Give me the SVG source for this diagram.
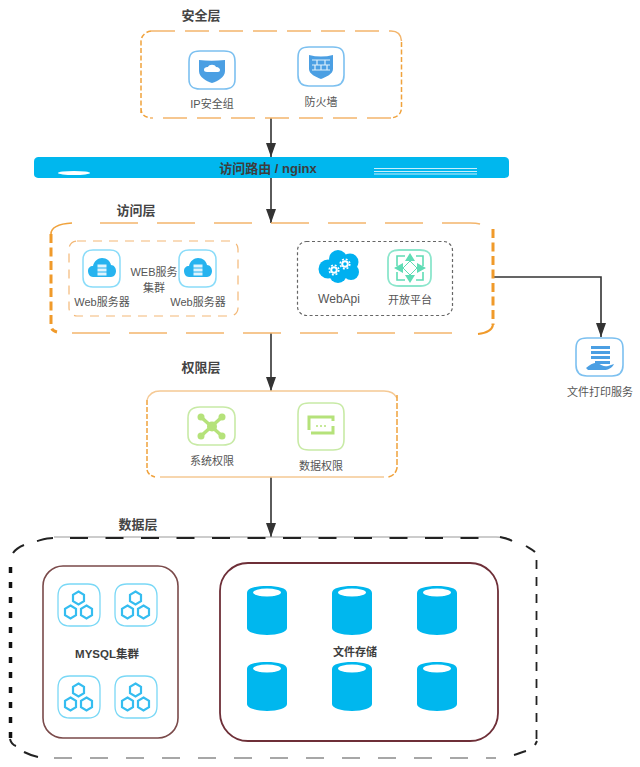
<svg xmlns="http://www.w3.org/2000/svg" xmlns:xlink="http://www.w3.org/1999/xlink" width="640" height="767" viewBox="0 0 640 767">
<style>
text{font-family:"Liberation Sans","Noto Sans CJK SC",sans-serif;fill:#555;font-size:11px;text-anchor:middle}
.h{font-size:13px;font-weight:bold;fill:#444}
.b{font-weight:bold;fill:#3d3d3d}
.o{fill:none;stroke:#f3b56c;stroke-width:1.5}
.ot{fill:none;stroke:#f3b877;stroke-width:1.2;stroke-dasharray:9 7}
.ob{stroke:#f09a2a;stroke-width:3;stroke-dasharray:9 4.500;fill:none}
.fr{fill:#fff;stroke-width:1.600}
.bl{stroke:#7cc0f0}.gr{stroke:#c8eaa6}
.conn{fill:none;stroke:#333;stroke-width:1.600}
.cyl{fill:#00b7ee}
</style>
<defs>
<marker id="arr" markerWidth="14" markerHeight="12" refX="14" refY="6" orient="auto" markerUnits="userSpaceOnUse"><path d="M0 1 L14 6 L0 11 Z" fill="#333"/></marker>
<path id="sq" d="M12 0H30C38 0 42 4 42 12V30C42 38 38 42 30 42H12C4 42 0 38 0 30V12C0 4 4 0 12 0Z" stroke-width="1.300" stroke="#7ad8f6" fill="#fff"/>
<g id="hex">
<use xlink:href="#sq"/>
<g fill="none" stroke="#35bdf0" stroke-width="2.200">
<path d="M20.500 7.500l5.500 3.300v6.400l-5.500 3.300l-5.500-3.300V10.800Z"/>
<path d="M12.500 21.500l5.500 3.300v6.400l-5.500 3.300l-5.500-3.300v-6.400Z"/>
<path d="M28.500 21.500l5.500 3.300v6.400l-5.500 3.300l-5.500-3.300v-6.400Z"/>
</g></g>
<g id="cylinder">
<path class="cyl" d="M0 7C0 2 9 0 20 0S40 2 40 7V42C40 46 31 49 20 49S0 46 0 42Z"/>
<ellipse cx="20" cy="6.500" rx="14" ry="4" fill="#fff"/>
</g>
<g id="cloudsrv">
<path d="M10 0H27C34 0 37 3 37 10V27C37 34 34 37 27 37H10C3 37 0 34 0 27V10C0 3 3 0 10 0Z" fill="#fff" stroke="#8adcf9" stroke-width="1.500"/>
<path d="M10 27C7 27 5 24 5 21C5 18 7 16 10 16C11 11 15 8 19 8C24 8 27 11 28 15C31 15 33 18 33 21C33 24 31 27 28 27Z" fill="#26b3ef"/>
<path d="M14.500 14.500h9v3h-9zM14.500 18.500h9v3h-9zM14.500 22.500h9v3h-9z" fill="#dff4fd"/>
</g>
<g id="gear">
<circle r="2.800" fill="none" stroke="#fff" stroke-width="2"/>
<circle r="4.800" fill="none" stroke="#fff" stroke-width="1.600" stroke-dasharray="1.900 1.900"/>
</g>
</defs>

<g id="connectors">
<path class="conn" marker-end="url(#arr)" d="M271 118V157"/>
<path class="conn" marker-end="url(#arr)" d="M271 178V223"/>
<path class="conn" marker-end="url(#arr)" d="M271 333V391"/>
<path class="conn" marker-end="url(#arr)" d="M271 477V537"/>
<path class="conn" marker-end="url(#arr)" d="M494 277H601V337"/>
</g>

<g id="security-layer">
<text class="h" x="201" y="20">安全层</text>
<path class="o" stroke-dasharray="24 10" d="M151 31H391C398 31 401 34 401.500 41"/>
<path class="o" stroke-dasharray="24 10" d="M391 118H151"/>
<path d="M141 113V42C141 36 145 32 151 31M141 108C141 114 144 117 151 118M401.500 42V108C401 114 398 117 391 118" fill="none" stroke="#f0a23c" stroke-width="1.500" stroke-dasharray="5 2.500"/>
</g>
<g id="ip-group">
<path class="fr bl" d="M200 51H224C232 51 235 54 235 62V79C235 86 232 89 224 89H200C192 89 189 86 189 79V62C189 54 192 51 200 51Z"/>
<path d="M199 60C207 61 216 61 225 60V71C225 77 218 81 212 83C206 81 199 77 199 71Z" fill="#4b9fe3"/>
<path d="M204 70C204 67 207 67 208 67C209 64 215 64 216 67C219 67 220 69 220 70C220 72 218 72 217 72H207C205 72 204 71 204 70Z" fill="#fff"/>
<text x="212" y="108">IP安全组</text>
</g>
<g id="firewall">
<path class="fr bl" d="M309 47H333C341 47 344 50 344 58V75C344 82 341 86 333 86H309C301 86 298 82 298 75V58C298 50 301 47 309 47Z"/>
<path d="M309 55C317 57 325 57 333 55V69C333 74 326 77 321 79C316 77 309 74 309 69Z" fill="#4b9fe3"/>
<path d="M312 60H330M312 65H330M312 70H330M317 60V65M325 60V65M321 65V70M315 65V70M327 65V70" stroke="#dff1fc" stroke-width="1.200" fill="none"/>
<text x="321" y="106">防火墙</text>
</g>

<g id="router">
<path d="M40 157H503C508 157 509 159 509 162V174C509 177 507 178 503 178H40C35 178 34 176 34 174V162C34 159 35 157 40 157Z" fill="#00b7ee"/>
<ellipse cx="74" cy="173" rx="16" ry="2" fill="#fff"/>
<path d="M374 168.500H477M374 171.500H477M374 174H477" stroke="#c8eefb" stroke-width="1.100"/>
<text class="b" x="268" y="173" style="font-size:13px">访问路由 / nginx</text>
</g>

<g id="access-layer">
<text class="h" x="136" y="215">访问层</text>
<path class="o" stroke-dasharray="38 19" d="M100 223H470C478 223 482 224 485 226"/>
<path class="o" stroke-dasharray="38 19" d="M72 333H470"/>
<path d="M51 234C51 228 56 224 72 223" fill="none" stroke="#f0a23c" stroke-width="1.600"/>
<path class="ob" d="M51 234V325C51 329 53 331 57 332"/>
<path class="ob" d="M493 229V325"/>
<path d="M493 325C492 330 487 333 478 334" fill="none" stroke="#f09a2a" stroke-width="2"/>
</g>
<g id="web-cluster">
<rect class="ot" x="69" y="241" width="169" height="75" rx="8"/>
<text x="154" y="276">WEB服务</text>
<text x="154" y="292">集群</text>
</g>
<g id="web1">
<use xlink:href="#cloudsrv" transform="translate(83 250)"/>
<text x="102" y="306">Web服务器</text>
</g>
<g id="web2">
<use xlink:href="#cloudsrv" transform="translate(179 250)"/>
<text x="198" y="306">Web服务器</text>
</g>
<g id="api-group">
<rect x="297.500" y="241.500" width="155" height="74" rx="9" fill="none" stroke="#666" stroke-width="1.200" stroke-dasharray="3 2.500"/>
</g>
<g id="webapi">
<g fill="#00b0f0">
<circle cx="328" cy="269" r="9.500"/><circle cx="338" cy="259" r="9"/><circle cx="350" cy="262" r="8.500"/><circle cx="351" cy="272" r="8"/><circle cx="338" cy="274" r="9"/>
</g>
<use xlink:href="#gear" x="334" y="270"/>
<use xlink:href="#gear" x="345" y="264"/>
<text x="339" y="303" style="font-size:12px">WebApi</text>
</g>
<g id="open-platform">
<path d="M399 250H420C428 250 431 253 431 260V276C431 283 428 286 420 286H399C391 286 388 283 388 276V260C388 253 391 250 399 250Z" fill="#fff" stroke="#8ce6cc" stroke-width="1.800"/>
<path d="M397 266V256H405M416 256H423V266M423 272V280H416M405 280H397V272" fill="none" stroke="#5fdcb5" stroke-width="1.600"/>
<path d="M410 253L415 261H405ZM410 283L415 275H405ZM394 268L403 263V273ZM426 268L417 263V273Z" fill="#5fdcb5"/>
<path d="M410 261L417 268L410 275L403 268Z" fill="none" stroke="#5fdcb5" stroke-width="1"/>
<text x="410" y="304">开放平台</text>
</g>

<g id="print-service">
<path class="fr bl" d="M587 338H612C620 338 623 341 623 349V365C623 372 620 376 612 376H587C579 376 576 372 576 365V349C576 341 579 338 587 338Z"/>
<path d="M591 346H610V349H591ZM591 351H610V354H591ZM591 356H610V359H591ZM595 361H610V364H595Z" fill="#4b9fe3"/>
<path d="M586 368C590 365 594 362 598 363C601 365 604 367 608 366L614 364C612 368 608 370 604 370H588Z" fill="#4b9fe3"/>
<text x="600" y="396">文件打印服务</text>
</g>

<g id="permission-layer">
<text class="h" x="201" y="372">权限层</text>
<path d="M147 400C149 394 153 391 160 391H384C390 391 395 394 397 398M160 477H384" fill="none" stroke="#f5c994" stroke-width="1.300"/>
<path d="M147 400V470C148 474 151 476 155 477" fill="none" stroke="#f0a23c" stroke-width="1.500" stroke-dasharray="5 2"/>
<path d="M397 395V468C396 473 393 476 388 477" fill="none" stroke="#f0a23c" stroke-width="1.500" stroke-dasharray="6 2"/>
</g>
<g id="system-perm">
<path class="fr gr" d="M200 407H223C231 407 235 410 235 418V435C235 442 231 445 223 445H200C192 445 188 442 188 435V418C188 410 192 407 200 407Z"/>
<path d="M201 417L222 436M222 417L201 436" stroke="#b5e27a" stroke-width="3.500"/>
<circle cx="201" cy="417" r="3.500" fill="#b5e27a"/><circle cx="222" cy="417" r="3.500" fill="#b5e27a"/><circle cx="201" cy="436" r="3.500" fill="#b5e27a"/><circle cx="222" cy="436" r="3.500" fill="#b5e27a"/><circle cx="212" cy="426.500" r="5" fill="#b5e27a"/>
<text x="212" y="465">系统权限</text>
</g>
<g id="data-perm">
<path class="fr gr" d="M309 403H333C341 403 344 406 344 414V439C344 447 341 450 333 450H309C301 450 298 447 298 439V414C298 406 301 403 309 403Z"/>
<path d="M309 430V417H333V421M333 426V433H311" fill="none" stroke="#b5e27a" stroke-width="3"/>
<path d="M316 426H328" stroke="#b5e27a" stroke-width="1.500" stroke-dasharray="2 2"/>
<text x="321" y="470">数据权限</text>
</g>

<g id="data-layer">
<text class="h" x="138" y="529">数据层</text>
<path d="M54 537H496C502 537 507 538 512 540" fill="none" stroke="#999" stroke-width="1"/>
<path d="M70 538H496" fill="none" stroke="#222" stroke-width="2.200" stroke-dasharray="18 17.500"/>
<path d="M54 758H496" fill="none" stroke="#8a8a8a" stroke-width="1.500" stroke-dasharray="18 18"/>
<path d="M10.500 738V558" fill="none" stroke="#111" stroke-width="3.500" stroke-dasharray="6 9"/>
<path d="M536.500 560V740" fill="none" stroke="#222" stroke-width="1.800" stroke-dasharray="9 8"/>
<path d="M13 553C15 550 19 547 24 545M37 541C41 540 47 538 53 538M10 739C11 743 13 745 16 746M24 752C28 754 33 756 38 757M500 537C505 538 509 539 512 541M526 546C529 548 532 549 535 552M514 755C518 754 522 752 526 751M535 745L537 741" fill="none" stroke="#222" stroke-width="2"/>
</g>
<g id="mysql-cluster">
<rect x="43" y="566" width="135" height="172" rx="20" fill="#fff" stroke="#7a4a4a" stroke-width="1.600"/>
<use xlink:href="#hex" x="58" y="584"/>
<use xlink:href="#hex" x="115" y="584"/>
<use xlink:href="#hex" x="58" y="676"/>
<use xlink:href="#hex" x="115" y="676"/>
<text class="b" x="107" y="658" style="font-size:11.500px">MYSQL集群</text>
</g>
<g id="file-storage">
<rect x="220" y="563" width="278" height="178" rx="28" fill="#fff" stroke="#6e2f38" stroke-width="1.800"/>
<use xlink:href="#cylinder" x="247" y="586"/>
<use xlink:href="#cylinder" x="332" y="586"/>
<use xlink:href="#cylinder" x="417" y="586"/>
<use xlink:href="#cylinder" x="247" y="662"/>
<use xlink:href="#cylinder" x="332" y="662"/>
<use xlink:href="#cylinder" x="417" y="662"/>
<text class="b" x="355" y="656">文件存储</text>
</g>
</svg>
